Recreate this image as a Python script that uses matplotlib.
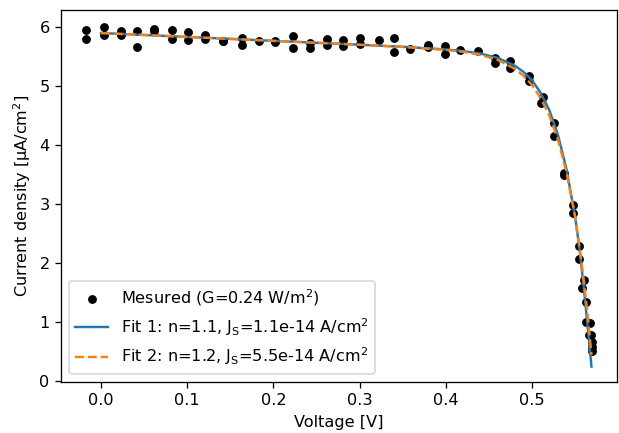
import matplotlib
matplotlib.use("Agg")
import matplotlib.pyplot as plt

# measured points (V, uA/cm2)
v_meas = [-0.017, -0.017, 0.004, 0.004, 0.023, 0.023, 0.042, 0.042, 0.062, 0.062,
          0.082, 0.082, 0.101, 0.101, 0.121, 0.121, 0.141, 0.141, 0.164, 0.164,
          0.183, 0.202, 0.202, 0.223, 0.223, 0.242, 0.242, 0.262, 0.262, 0.281,
          0.281, 0.301, 0.301, 0.322, 0.340, 0.340, 0.359, 0.379, 0.379, 0.399,
          0.399, 0.417, 0.437, 0.457, 0.457, 0.475, 0.475, 0.496, 0.496, 0.513,
          0.510, 0.526, 0.525, 0.537, 0.537, 0.547, 0.547, 0.554, 0.554, 0.560,
          0.558, 0.563, 0.563, 0.567, 0.568, 0.566, 0.570, 0.570, 0.569]
j_meas = [5.94, 5.79, 5.99, 5.85, 5.92, 5.86, 5.92, 5.65, 5.96, 5.93,
          5.94, 5.79, 5.90, 5.77, 5.85, 5.79, 5.76, 5.75, 5.80, 5.69,
          5.76, 5.76, 5.73, 5.84, 5.64, 5.72, 5.64, 5.79, 5.69, 5.78,
          5.67, 5.81, 5.71, 5.77, 5.81, 5.57, 5.62, 5.69, 5.66, 5.67,
          5.53, 5.61, 5.59, 5.46, 5.39, 5.41, 5.29, 5.16, 5.08, 4.81,
          4.71, 4.37, 4.14, 3.52, 3.49, 2.97, 2.85, 2.29, 2.07, 1.71,
          1.58, 1.34, 0.99, 0.98, 0.77, 0.78, 0.66, 0.57, 0.50]

# fit curves
v_fit = [0.0, 0.05, 0.10, 0.15, 0.20, 0.25, 0.30, 0.35, 0.40, 0.42, 0.44, 0.46,
         0.48, 0.49, 0.50, 0.51, 0.52, 0.53, 0.54, 0.55, 0.555, 0.56, 0.565, 0.569]
j_fit1 = [5.89, 5.857, 5.824, 5.791, 5.758, 5.725, 5.692, 5.657, 5.612, 5.585, 5.543, 5.470,
          5.338, 5.233, 5.09, 4.879, 4.587, 4.17, 3.584, 2.777, 2.244, 1.59, 0.85, 0.24]
j_fit2 = [5.89, 5.857, 5.824, 5.791, 5.758, 5.725, 5.691, 5.655, 5.604, 5.573, 5.521, 5.435,
          5.285, 5.167, 5.01, 4.79, 4.50, 4.09, 3.53, 2.78, 2.27, 1.71, 1.05, 0.44]

dpi = 116
fig = plt.figure(figsize=(619 / dpi, 433 / dpi), dpi=dpi)
ax = fig.add_axes([0.0985, 0.1178, 0.8983, 0.8591])

ax.scatter(v_meas, j_meas, s=20, color="black", label="Mesured (G=0.24 W/m$^2$)")
ax.plot(v_fit, j_fit1, color="C0", lw=1.5,
        label="Fit 1: n=1.1, J$_\\mathrm{S}$=1.1e-14 A/cm$^2$")
ax.plot(v_fit, j_fit2, color="C1", lw=1.5, ls="--",
        label="Fit 2: n=1.2, J$_\\mathrm{S}$=5.5e-14 A/cm$^2$")

ax.set_xlim(-0.0464, 0.5986)
ax.set_ylim(-0.02, 6.28)
ax.set_xlabel("Voltage [V]")
ax.set_ylabel("Current density [µA/cm$^2$]")
ax.legend(loc="lower left")

fig.savefig("out.png", dpi=dpi)
